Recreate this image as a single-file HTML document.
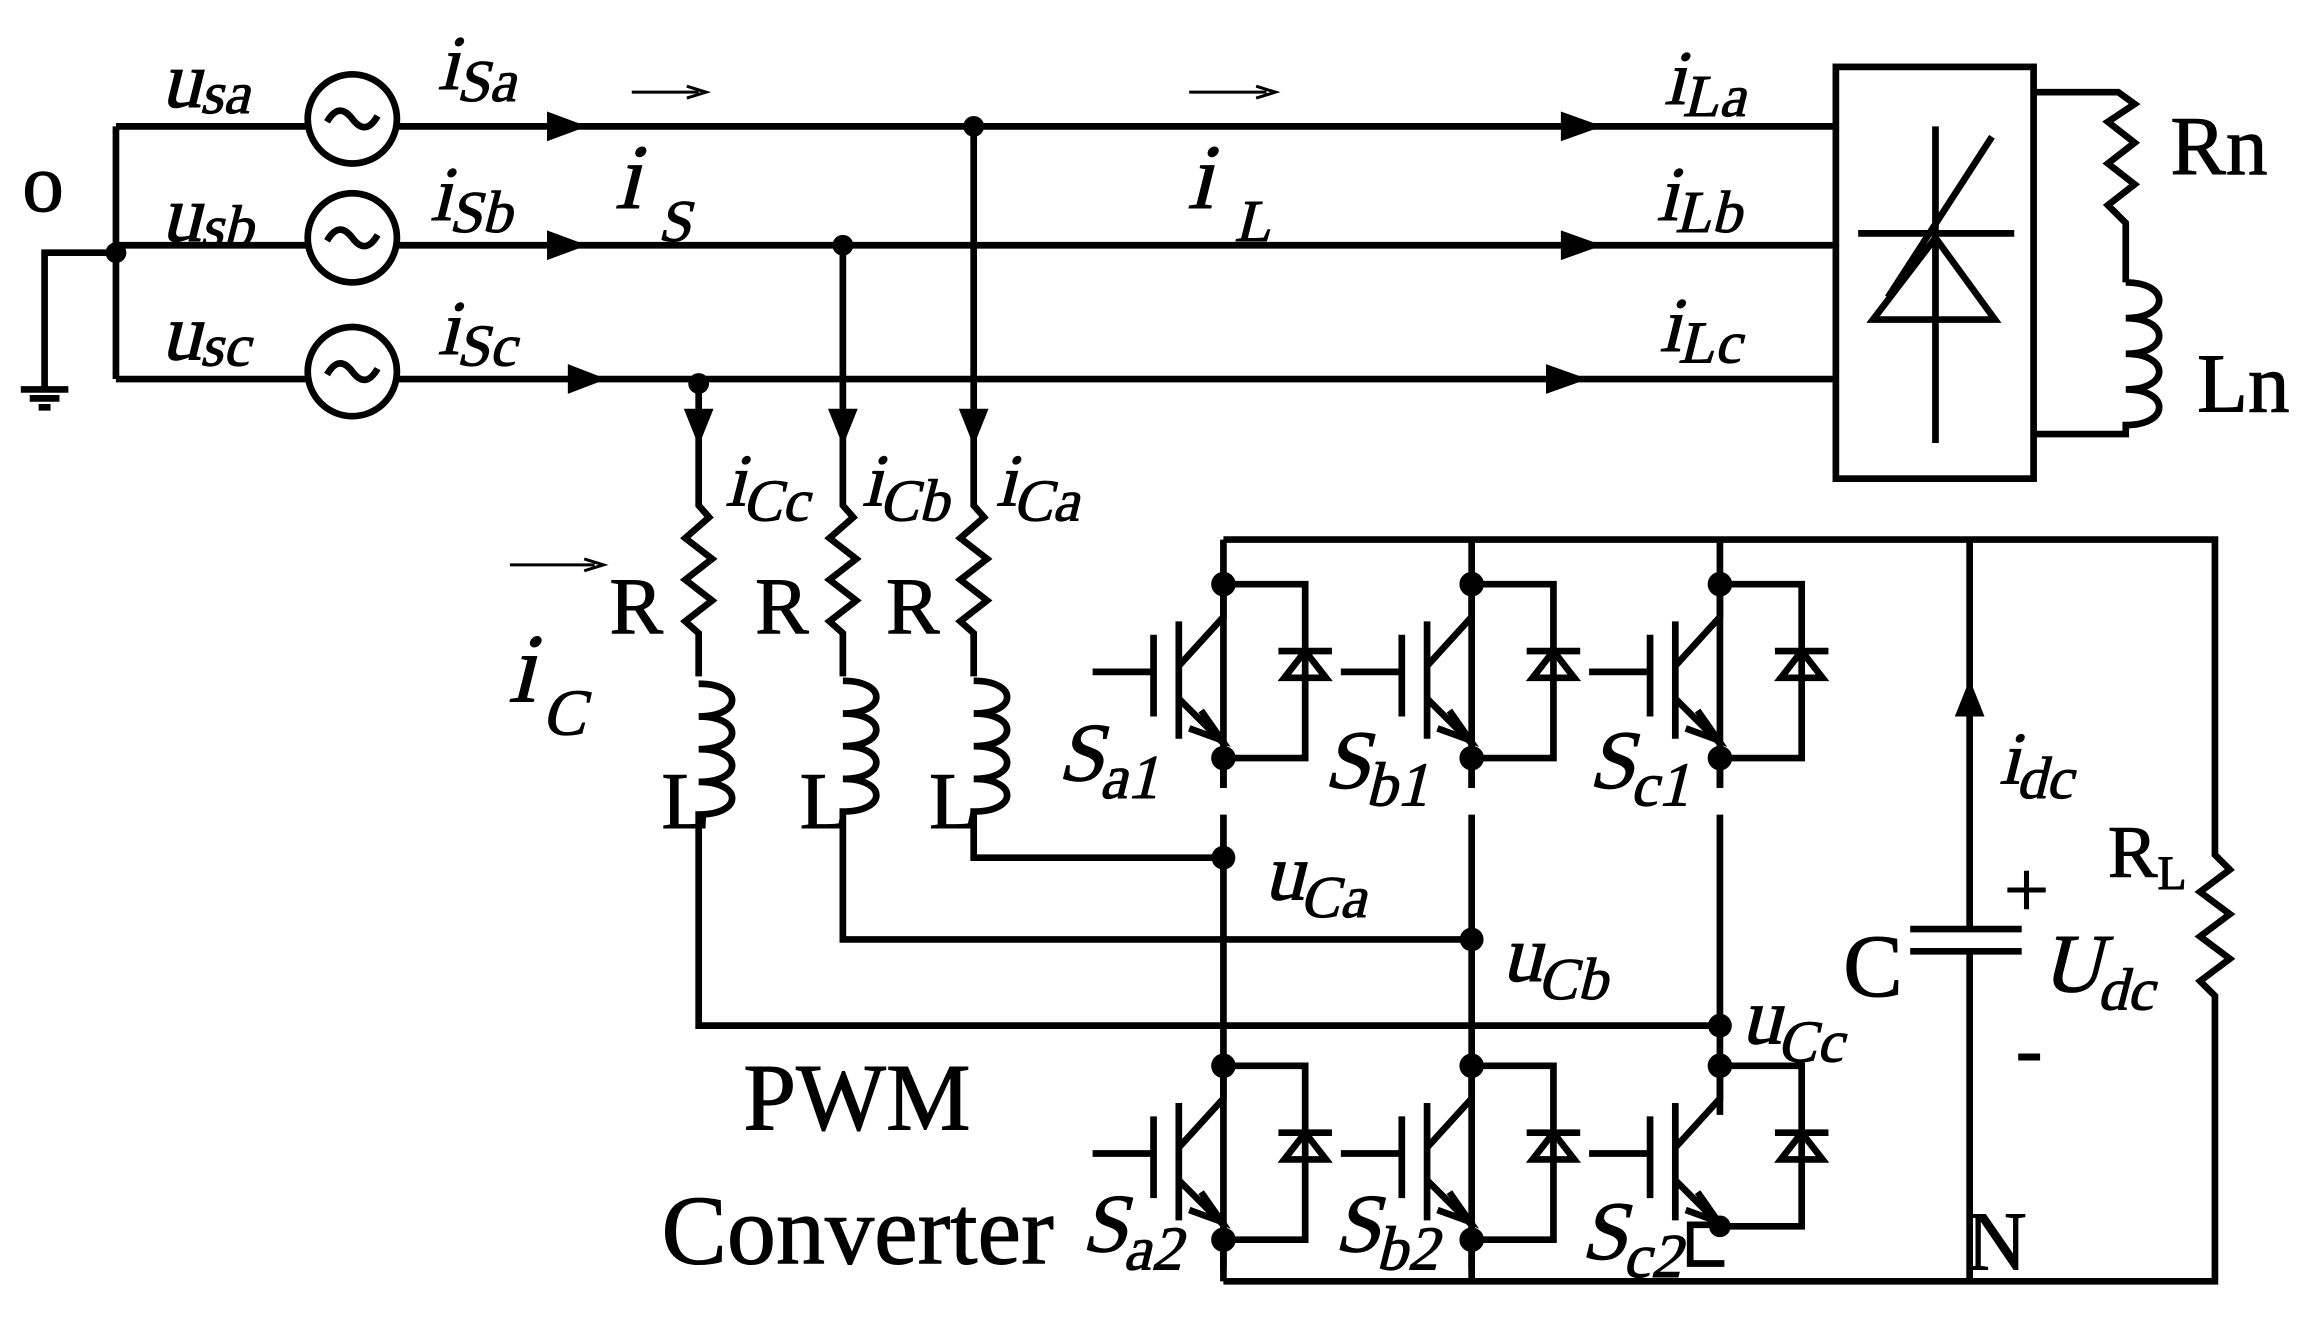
<!DOCTYPE html>
<html><head><meta charset="utf-8"><style>
html,body{margin:0;padding:0;background:#fff;}
svg{display:block;}
text{font-family:"Liberation Serif",serif;fill:#000;stroke:#000;stroke-width:0.7;}
.i{font-style:normal;transform-box:fill-box;transform-origin:50% 100%;transform:skewX(-14deg);}
</style></head><body>
<svg width="2319" height="1317" viewBox="0 0 1560 886" preserveAspectRatio="none" xmlns="http://www.w3.org/2000/svg">
<g stroke="#000" stroke-width="4.5" fill="none" stroke-linecap="butt">
<path d="M78 85 V255"/>
<path d="M78 170 H30 V262"/>
<path d="M14 262 H46 M20 268 H40 M26 274 H34"/>
<path d="M78 85 H207 M267 85 H1235"/>
<path d="M78 165 H207 M267 165 H1235"/>
<path d="M78 255 H207 M267 255 H1235"/>
<circle cx="237" cy="80" r="30"/>
<circle cx="237" cy="160" r="30"/>
<circle cx="237" cy="250" r="30"/>
<path d="M220 82 q8 -14 17 -2 q9 12 17 -2"/>
<path d="M220 162 q8 -14 17 -2 q9 12 17 -2"/>
<path d="M220 252 q8 -14 17 -2 q9 12 17 -2"/>
<path d="M425 62 H470 M462 58 L475 62 L462 66" stroke-width="2"/>
<path d="M800 62 H852 M845 58 L858 62 L845 66" stroke-width="2"/>
<path d="M343 380 H400 M393 376 L406 380 L393 384" stroke-width="2"/>
<rect x="1235" y="45" width="133" height="277"/>
<path d="M1250 157 H1355 M1302 85 V298 M1260 215 H1342 L1302 160 Z M1270 200 L1340 92"/>
<path d="M1368 62 H1425 L1436 70 L1418 82 L1436 96 L1418 110 L1436 124 L1418 138 L1430 150 V190"/>
<path d="M1430 190 c30 0 30 24 0 24 c30 0 30 24 0 24 c30 0 30 24 0 24 c30 0 30 24 0 24 V292 H1368"/>
<path d="M655 85 V340 L662 348 L646 362 L664 376 L646 390 L664 404 L646 418 L655 426 V455"/>
<path d="M567 165 V340 L574 348 L558 362 L576 376 L558 390 L576 404 L558 418 L567 426 V455"/>
<path d="M470 258 V340 L477 348 L461 362 L479 376 L461 390 L479 404 L461 418 L470 426 V455"/>
<path d="M655 458 c30 0 30 22 0 22 c30 0 30 22 0 22 c30 0 30 22 0 22 c30 0 30 22 0 22 V577 H823"/>
<path d="M567 458 c30 0 30 22 0 22 c30 0 30 22 0 22 c30 0 30 22 0 22 c30 0 30 22 0 22 V632 H990"/>
<path d="M470 460 c30 0 30 22 0 22 c30 0 30 22 0 22 c30 0 30 22 0 22 c30 0 30 22 0 22 V690 H1157"/>
<path d="M823 363 H1490 V575 L1500 585 L1480 600 L1500 615 L1480 630 L1500 645 L1480 660 L1490 670 V862 H823"/>
<path d="M1325 363 V625 M1285 625 H1360 M1285 640 H1360 M1325 640 V862"/>
<path d="M823 363 V530 M823 548 V862"/>
<path d="M990 363 V530 M990 548 V862"/>
<path d="M1157 363 V530 M1157 548 V690 V750"/>
</g>
<g fill="#000">
<path d="M368 75 L395 85 L368 95 Z"/>
<path d="M368 155 L395 165 L368 175 Z"/>
<path d="M382 245 L408 255 L382 265 Z"/>
<path d="M1050 75 L1078 85 L1050 95 Z"/>
<path d="M1050 155 L1078 165 L1050 175 Z"/>
<path d="M1040 245 L1068 255 L1040 265 Z"/>
<path d="M645 275 L655 300 L665 275 Z"/>
<path d="M557 275 L567 300 L577 275 Z"/>
<path d="M460 275 L470 300 L480 275 Z"/>
<path d="M1315 482 L1325 457 L1335 482 Z"/>
<circle cx="78" cy="170" r="7"/>
<circle cx="655" cy="85" r="7"/>
<circle cx="567" cy="165" r="7"/>
<circle cx="470" cy="258" r="7"/>
<circle cx="823" cy="577" r="8"/>
<circle cx="990" cy="632" r="8"/>
<circle cx="1157" cy="690" r="8"/>
</g>
<g stroke="#000" stroke-width="4.5" fill="none">
<g id="s1">
<path d="M823 393 H878 V510 H823"/>
<path d="M860 438 H896 M878 438 L864 456 H892 Z"/>
<path d="M823 393 V415 L793 448 M793 418 V497 M776 427 V482 M735 452 H776 M793 470 L823 500 V530"/>
<path d="M808 478 L822 498 L800 490" />
<circle cx="823" cy="393" r="6" fill="#000"/>
<circle cx="823" cy="510" r="6" fill="#000"/>
</g>
<use href="#s1" transform="translate(167 0)"/>
<use href="#s1" transform="translate(334 0)"/>
<use href="#s1" transform="translate(0 324)"/>
<use href="#s1" transform="translate(167 324)"/>
<path d="M1157 717 H1212 V825 H1157 M1194 762 H1230 M1212 762 L1198 780 H1226 Z"/>
<path d="M1157 717 V739 L1127 772 M1127 742 V821 M1110 751 V806 M1069 776 H1110 M1127 794 L1157 824 M1142 802 L1156 822 L1134 814 M1157 824 H1137 V850 H1160"/>
<circle cx="1157" cy="717" r="6" fill="#000"/>
<circle cx="1157" cy="825" r="5"/>
<circle cx="1157" cy="825" r="2" fill="#000"/>
</g>
<text x="15" y="142" font-size="56">o</text>
<text class="i" x="105" y="72" font-size="54">u<tspan font-size="40" dy="4">sa</tspan></text>
<text class="i" x="105" y="162" font-size="54">u<tspan font-size="40" dy="4">sb</tspan></text>
<text class="i" x="105" y="242" font-size="54">u<tspan font-size="40" dy="4">sc</tspan></text>
<text class="i" x="290" y="60" font-size="52">i<tspan font-size="40" dy="8">Sa</tspan></text>
<text class="i" x="285" y="148" font-size="52">i<tspan font-size="40" dy="8">Sb</tspan></text>
<text class="i" x="290" y="238" font-size="52">i<tspan font-size="40" dy="8">Sc</tspan></text>
<text class="i" x="410" y="140" font-size="62">i</text>
<text class="i" x="440" y="162" font-size="40">S</text>
<text class="i" x="795" y="140" font-size="62">i</text>
<text class="i" x="828" y="162" font-size="40">L</text>
<text class="i" x="1115" y="70" font-size="52">i<tspan font-size="40" dy="8">La</tspan></text>
<text class="i" x="1110" y="148" font-size="52">i<tspan font-size="40" dy="8">Lb</tspan></text>
<text class="i" x="1112" y="236" font-size="52">i<tspan font-size="40" dy="8">Lc</tspan></text>
<text x="1460" y="117" font-size="56">Rn</text>
<text x="1478" y="277" font-size="56">Ln</text>
<text class="i" x="483" y="340" font-size="50">i<tspan font-size="40" dy="10">Cc</tspan></text>
<text class="i" x="575" y="340" font-size="50">i<tspan font-size="40" dy="10">Cb</tspan></text>
<text class="i" x="665" y="340" font-size="50">i<tspan font-size="40" dy="10">Ca</tspan></text>
<text class="i" x="338" y="472" font-size="66">i</text>
<text class="i" x="362" y="494" font-size="44">C</text>
<text x="410" y="426" font-size="54">R</text>
<text x="508" y="426" font-size="54">R</text>
<text x="596" y="426" font-size="54">R</text>
<text x="445" y="557" font-size="54">L</text>
<text x="538" y="557" font-size="54">L</text>
<text x="625" y="557" font-size="54">L</text>
<text class="i" x="706" y="525" font-size="56">S<tspan font-size="42" dy="12">a1</tspan></text>
<text class="i" x="885" y="530" font-size="56">S<tspan font-size="42" dy="12">b1</tspan></text>
<text class="i" x="1063" y="530" font-size="56">S<tspan font-size="42" dy="12">c1</tspan></text>
<text class="i" x="722" y="842" font-size="56">S<tspan font-size="42" dy="12">a2</tspan></text>
<text class="i" x="892" y="842" font-size="56">S<tspan font-size="42" dy="12">b2</tspan></text>
<text class="i" x="1058" y="847" font-size="56">S<tspan font-size="42" dy="12">c2</tspan></text>
<text class="i" x="845" y="605" font-size="54">u<tspan font-size="40" dy="12">Ca</tspan></text>
<text class="i" x="1005" y="660" font-size="54">u<tspan font-size="40" dy="12">Cb</tspan></text>
<text class="i" x="1166" y="702" font-size="54">u<tspan font-size="40" dy="12">Cc</tspan></text>
<text x="500" y="760" font-size="64">PWM</text>
<text x="445" y="850" font-size="66">Converter</text>
<text class="i" x="1340" y="527" font-size="50">i<tspan font-size="40" dy="10">dc</tspan></text>
<text x="1418" y="590" font-size="50">R<tspan font-size="32" dy="8">L</tspan></text>
<text x="1240" y="670" font-size="60">C</text>
<text x="1348" y="617" font-size="54">+</text>
<text class="i" x="1368" y="667" font-size="56">U<tspan font-size="40" dy="12">dc</tspan></text>
<text x="1356" y="724" font-size="54">-</text>
<text x="1323" y="854" font-size="56">N</text>
</svg>
</body></html>
